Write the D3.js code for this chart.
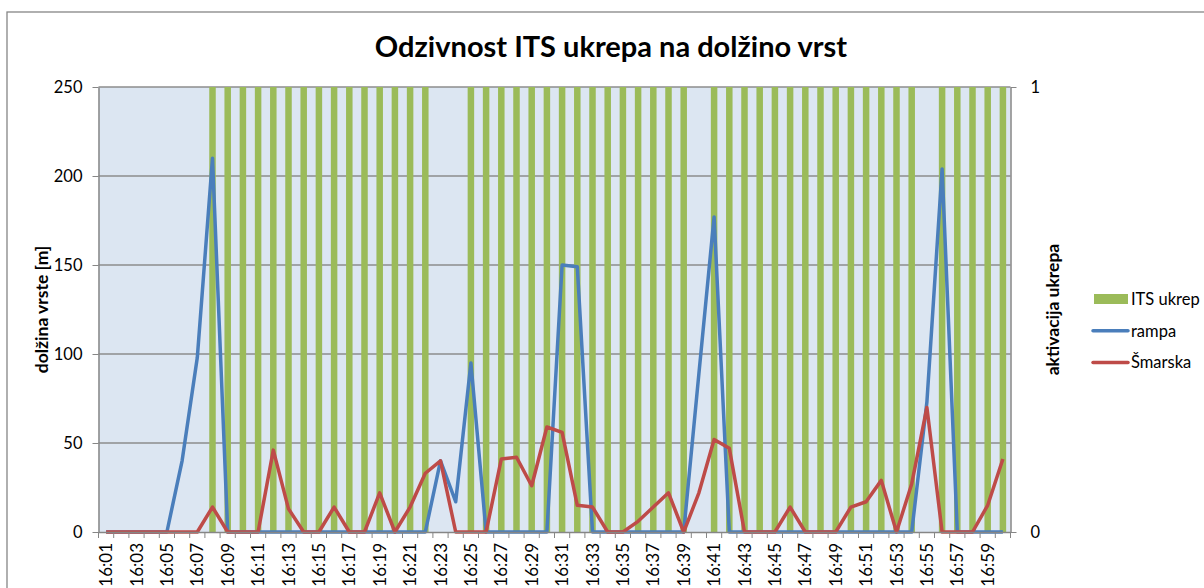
<!doctype html>
<html>
<head>
<meta charset="UTF-8">
<title>Odzivnost ITS ukrepa</title>
<script src="https://d3js.org/d3.v7.min.js"></script>
<style>
	body {
		margin: 0;
		background: #fff;
	}
	.chart text {
		font-family: Lato, "Open Sans", sans-serif;
		fill: #000;
	}
	.axis path, .axis line {
		stroke: #868686;
	}
	.grid line {
		stroke: #8c8c8c;
		stroke-width: 1.3;
	}
</style>
</head>

<body>
	<svg class="chart" width="1204" height="588"></svg>
<script>
var categories = ['16:01', '16:02', '16:03', '16:04', '16:05', '16:06', '16:07', '16:08', '16:09', '16:10',
	'16:11', '16:12', '16:13', '16:14', '16:15', '16:16', '16:17', '16:18', '16:19', '16:20',
	'16:21', '16:22', '16:23', '16:24', '16:25', '16:26', '16:27', '16:28', '16:29', '16:30',
	'16:31', '16:32', '16:33', '16:34', '16:35', '16:36', '16:37', '16:38', '16:39', '16:40',
	'16:41', '16:42', '16:43', '16:44', '16:45', '16:46', '16:47', '16:48', '16:49', '16:50',
	'16:51', '16:52', '16:53', '16:54', '16:55', '16:56', '16:57', '16:58', '16:59', '17:00'];
// ITS ukrep (secondary axis, 0/1)
var itsUkrep = [0, 0, 0, 0, 0, 0, 0, 1, 1, 1,
	1, 1, 1, 1, 1, 1, 1, 1, 1, 1,
	1, 1, 0, 0, 1, 1, 1, 1, 1, 1,
	1, 1, 1, 1, 1, 1, 1, 1, 1, 0,
	1, 1, 1, 1, 1, 1, 1, 1, 1, 1,
	1, 1, 1, 1, 0, 1, 1, 1, 1, 1];
var rampa = [0, 0, 0, 0, 0, 40, 98, 210, 0, 0,
	0, 0, 0, 0, 0, 0, 0, 0, 0, 0,
	0, 0, 40, 17, 95, 0, 0, 0, 0, 0,
	150, 149, 0, 0, 0, 0, 0, 0, 0, 89,
	177, 0, 0, 0, 0, 0, 0, 0, 0, 0,
	0, 0, 0, 0, 73, 204, 0, 0, 0, 0];
var smarska = [0, 0, 0, 0, 0, 0, 0, 14, 0, 0,
	0, 46, 13, 0, 0, 14, 0, 0, 22, 0,
	14, 33, 40, 0, 0, 0, 41, 42, 26, 59,
	56, 15, 14, 0, 0, 6, 14, 22, 0, 22,
	52, 47, 0, 0, 0, 14, 0, 0, 0, 14,
	17, 29, 0, 27, 70, 0, 0, 0, 15, 41];
var leftTicks = [0, 50, 100, 150, 200, 250];
var rightTicks = [0, 1];

var chart = d3.select('.chart');
var plot = {left: 98.5, right: 1010.5, top: 87, bottom: 532};

// outer chart border
chart.append('rect')
	.attr('x', 7).attr('y', 12)
	.attr('width', 1210).attr('height', 600)
	.attr('fill', '#fff')
	.attr('stroke', '#868686')
	.attr('stroke-width', 1.3);

var x = d3.scaleBand()
	.domain(categories)
	.range([plot.left, plot.right])
	.padding(0);
var y = d3.scaleLinear()
	.domain([0, 250])
	.range([plot.bottom, plot.top]);
var y2 = d3.scaleLinear()
	.domain([0, 1])
	.range([plot.bottom, plot.top]);

chart.append('rect')
	.attr('x', plot.left).attr('y', plot.top)
	.attr('width', plot.right - plot.left).attr('height', plot.bottom - plot.top)
	.attr('fill', '#dce6f2');

chart.append('g')
	.attr('class', 'grid')
	.selectAll('line')
	.data(leftTicks.slice(1))
	.enter().append('line')
	.attr('x1', plot.left).attr('x2', plot.right)
	.attr('y1', function(d) { return y(d); })
	.attr('y2', function(d) { return y(d); });

// ITS ukrep bars
var barW = 6.5;
chart.append('g')
	.selectAll('rect')
	.data(itsUkrep)
	.enter().append('rect')
	.attr('x', function(d, i) { return x(categories[i]) + x.bandwidth() / 2 - barW / 2; })
	.attr('y', function(d) { return y2(d); })
	.attr('width', barW)
	.attr('height', function(d) { return y2(0) - y2(d); })
	.attr('fill', '#9bbb59');

var line = d3.line()
	.x(function(d, i) { return x(categories[i]) + x.bandwidth() / 2; })
	.y(function(d) { return y(d); });

chart.append('path')
	.datum(rampa)
	.attr('d', line)
	.attr('fill', 'none')
	.attr('stroke', '#4a7ebb')
	.attr('stroke-width', 3.5)
	.attr('stroke-linejoin', 'round');
chart.append('path')
	.datum(smarska)
	.attr('d', line)
	.attr('fill', 'none')
	.attr('stroke', '#be4b48')
	.attr('stroke-width', 3.5)
	.attr('stroke-linejoin', 'round');

// left axis
var yAxis = chart.append('g')
	.attr('class', 'axis')
	.attr('transform', 'translate(' + plot.left + ',0)')
	.call(d3.axisLeft(y).tickValues(leftTicks).tickSize(6).tickSizeOuter(0).tickPadding(10));
yAxis.selectAll('text').style('font-size', '16.5px');
yAxis.select('.domain').attr('stroke-width', 1.5);

// right axis
var y2Axis = chart.append('g')
	.attr('class', 'axis')
	.attr('transform', 'translate(' + plot.right + ',0)')
	.call(d3.axisRight(y2).tickValues(rightTicks).tickFormat(d3.format('d')).tickSize(6).tickSizeOuter(0).tickPadding(14));
y2Axis.selectAll('text').style('font-size', '16.5px');
y2Axis.select('.domain').attr('stroke-width', 1.5);

// bottom axis: labels at every second minute, ticks between categories
var xAxis = chart.append('g')
	.attr('class', 'axis')
	.attr('transform', 'translate(0,' + plot.bottom + ')')
	.call(d3.axisBottom(x).tickSize(0).tickFormat(function(d, i) {
		return i % 2 === 0 ? d : '';
	}));
xAxis.select('.domain').attr('stroke-width', 1.5);
xAxis.selectAll('text')
	.style('font-size', '17px')
	.style('text-anchor', 'end')
	.attr('transform', 'rotate(-90)')
	.attr('x', -11)
	.attr('y', 0)
	.attr('dy', '0.36em');
xAxis.selectAll('.boundary')
	.data(categories.concat(['end']))
	.enter().append('line')
	.attr('class', 'boundary')
	.attr('x1', function(d) { return d === 'end' ? plot.right : x(d); })
	.attr('x2', function(d) { return d === 'end' ? plot.right : x(d); })
	.attr('y1', 0)
	.attr('y2', 6)
	.attr('stroke', '#868686');

// titles
chart.append('text')
	.attr('x', 611).attr('y', 57)
	.attr('text-anchor', 'middle')
	.style('font-size', '29px')
	.style('font-weight', 'bold')
	.text('Odzivnost ITS ukrepa na dolžino vrst');
chart.append('text')
	.attr('transform', 'translate(42,' + ((plot.top + plot.bottom) / 2) + ') rotate(-90)')
	.attr('text-anchor', 'middle')
	.attr('dy', '0.35em')
	.style('font-size', '17.5px')
	.style('font-weight', 'bold')
	.text('dolžina vrste [m]');
chart.append('text')
	.attr('transform', 'translate(1053,' + ((plot.top + plot.bottom) / 2) + ') rotate(-90)')
	.attr('text-anchor', 'middle')
	.attr('dy', '0.35em')
	.style('font-size', '17.5px')
	.style('font-weight', 'bold')
	.text('aktivacija ukrepa');

// legend
var legendItems = [
	{name: 'ITS ukrep', color: '#9bbb59', type: 'bar'},
	{name: 'rampa', color: '#4a7ebb', type: 'line'},
	{name: 'Šmarska', color: '#be4b48', type: 'line'}
];
var legend = chart.append('g')
	.selectAll('g')
	.data(legendItems)
	.enter().append('g')
	.attr('transform', function(d, i) { return 'translate(1093,' + (299 + i * 31.8) + ')'; });
legend.filter(function(d) { return d.type === 'bar'; })
	.append('rect')
	.attr('x', 1).attr('y', -5)
	.attr('width', 34).attr('height', 10)
	.attr('fill', function(d) { return d.color; });
legend.filter(function(d) { return d.type === 'line'; })
	.append('line')
	.attr('x1', 0).attr('x2', 35)
	.attr('stroke', function(d) { return d.color; })
	.attr('stroke-width', 3.5)
	.attr('stroke-linecap', 'round');
legend.append('text')
	.attr('x', 38)
	.attr('dy', '0.35em')
	.style('font-size', '16.5px')
	.text(function(d) { return d.name; });
</script>
</body>
</html>
